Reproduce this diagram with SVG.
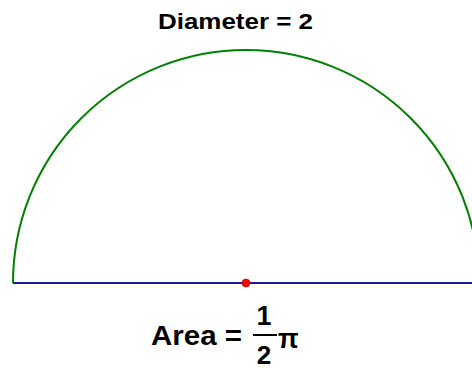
<svg xmlns="http://www.w3.org/2000/svg" width="472" height="370" viewBox="0 0 472 370">
<style>
.t{font-family:"Liberation Sans",Arial,sans-serif;font-weight:bold;fill:#000}
</style>
<rect width="472" height="370" fill="#fff"/>
<g id="connectors">
<path id="arc" d="M13,283 A233,233 0 0 1 479,283" fill="none" stroke="#008000" stroke-width="2"/>
<line id="diameter" x1="13" y1="283" x2="472" y2="283" stroke="#1a1aa0" stroke-width="2"/>
</g>
<g id="center">
<circle cx="246" cy="283" r="4" fill="#ff0000" stroke="#a00000" stroke-width="0.6"/>
</g>
<g id="title">
<text class="t" x="158" y="29" font-size="22" textLength="155" lengthAdjust="spacingAndGlyphs">Diameter = 2</text>
</g>
<g id="area">
<text class="t" x="151" y="345" font-size="27" textLength="91" lengthAdjust="spacingAndGlyphs">Area =</text>
<text class="t" x="264" y="325" font-size="27" text-anchor="middle">1</text>
<line x1="253" y1="335" x2="277" y2="335" stroke="#000" stroke-width="2"/>
<text class="t" x="264" y="364" font-size="26" text-anchor="middle">2</text>
<text class="t" x="278" y="348" font-size="27">π</text>
</g>
</svg>
